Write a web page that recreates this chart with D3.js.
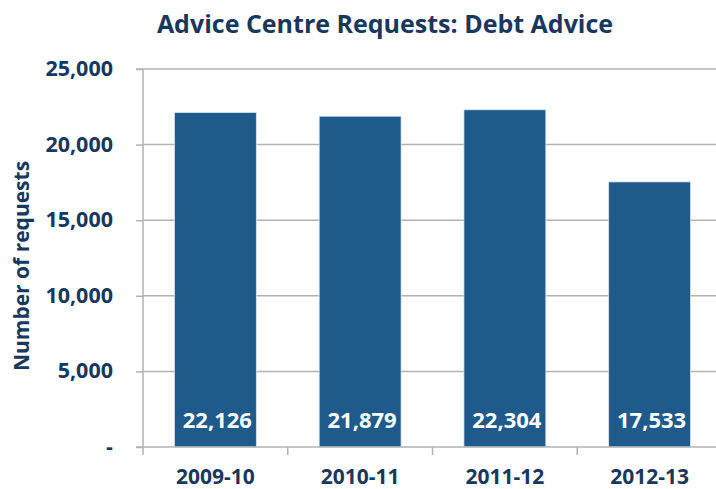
<!DOCTYPE html>
<html>
<head>
<meta charset="utf-8">
<script src="https://cdn.jsdelivr.net/npm/d3@7"></script>
<style>
  html, body { margin: 0; padding: 0; background: #fff; }
  svg { display: block; }
  text { font-family: "Open Sans", "Liberation Sans", sans-serif; font-weight: bold; }
</style>
</head>
<body>
<svg id="chart" width="716" height="489"></svg>
<script>
// Financial years and debt-advice requests handled by the advice centre
const years = ["2009-10", "2010-11", "2011-12", "2012-13"];
const requests = [22126, 21879, 22304, 17533];
const yTicks = [0, 5000, 10000, 15000, 20000, 25000];

const chartTitle = "Advice Centre Requests: Debt Advice";
const yAxisTitle = "Number of requests";

const ink = "#17375E";
const barFill = "#1F5A8C";
const gridGrey = "#B2B2B2";

const svg = d3.select("#chart");
const plotLeft = 143, plotRight = 722, plotTop = 69, plotBottom = 447;

const x = d3.scaleBand().domain(years).range([plotLeft, plotRight]).paddingInner(0.434).paddingOuter(0.217);
const y = d3.scaleLinear().domain([0, 25000]).range([plotBottom, plotTop]);

const fmt = d3.format(",");

// Title
svg.append("text")
  .attr("x", 385).attr("y", 33)
  .attr("text-anchor", "middle")
  .attr("font-size", 25)
  .attr("fill", ink)
  .text(chartTitle);

// Horizontal gridlines
svg.append("g").selectAll("line")
  .data(yTicks.filter(d => d > 0))
  .join("line")
  .attr("x1", plotLeft).attr("x2", plotRight)
  .attr("y1", d => y(d)).attr("y2", d => y(d))
  .attr("stroke", gridGrey).attr("stroke-width", 1.5);

// Y axis with "-" in place of zero
const yAxis = d3.axisLeft(y).tickValues(yTicks).tickSize(7).tickPadding(23)
  .tickFormat(d => d === 0 ? "-" : fmt(d));
const gy = svg.append("g").attr("transform", `translate(${plotLeft},0)`).call(yAxis);
gy.select(".domain").attr("stroke", gridGrey).attr("stroke-width", 1.5).attr("d", `M-7,${plotTop}H0V${plotBottom}`);
gy.selectAll(".tick line").attr("stroke", gridGrey).attr("stroke-width", 1.5);
gy.selectAll(".tick text")
  .attr("fill", ink).attr("font-size", 21.5)
  .attr("dy", "0.3em")
  .attr("font-family", "'Open Sans', sans-serif").attr("font-weight", "bold");

// Bars
svg.append("g").selectAll("rect")
  .data(years.map((yr, i) => ({ yr, v: requests[i] })))
  .join("rect")
  .attr("x", d => x(d.yr))
  .attr("width", x.bandwidth())
  .attr("y", d => y(d.v))
  .attr("height", d => y(0) - y(d.v))
  .attr("fill", barFill)
  .attr("stroke", "#DCE6F0").attr("stroke-width", 0.8);

// X axis with ticks between categories
const gx = svg.append("g").attr("transform", `translate(0,${plotBottom})`);
gx.append("line").attr("x1", plotLeft - 7).attr("x2", plotRight).attr("y1", 0).attr("y2", 0)
  .attr("stroke", gridGrey).attr("stroke-width", 1.5);
const bounds = d3.range(years.length + 1).map(i => plotLeft + i * x.step());
gx.selectAll("line.sep").data(bounds).join("line").attr("class", "sep")
  .attr("x1", d => d).attr("x2", d => d).attr("y1", 0).attr("y2", 8)
  .attr("stroke", gridGrey).attr("stroke-width", 1.5);
gx.selectAll("text").data(years).join("text")
  .attr("x", d => x(d) + x.bandwidth() / 2)
  .attr("y", 37)
  .attr("text-anchor", "middle")
  .attr("font-size", 21)
  .attr("fill", ink)
  .text(d => d);

// Value labels inside the bars
svg.append("g").selectAll("text")
  .data(years.map((yr, i) => ({ yr, v: requests[i] })))
  .join("text")
  .attr("x", d => x(d.yr) + x.bandwidth() / 2 + 2)
  .attr("y", 428)
  .attr("text-anchor", "middle")
  .attr("font-size", 22)
  .attr("fill", "#fff")
  .text(d => fmt(d.v));

// Y axis title
svg.append("text")
  .attr("transform", "translate(29,266) rotate(-90)")
  .attr("text-anchor", "middle")
  .attr("font-size", 21)
  .attr("fill", ink)
  .text(yAxisTitle);
</script>
</body>
</html>
